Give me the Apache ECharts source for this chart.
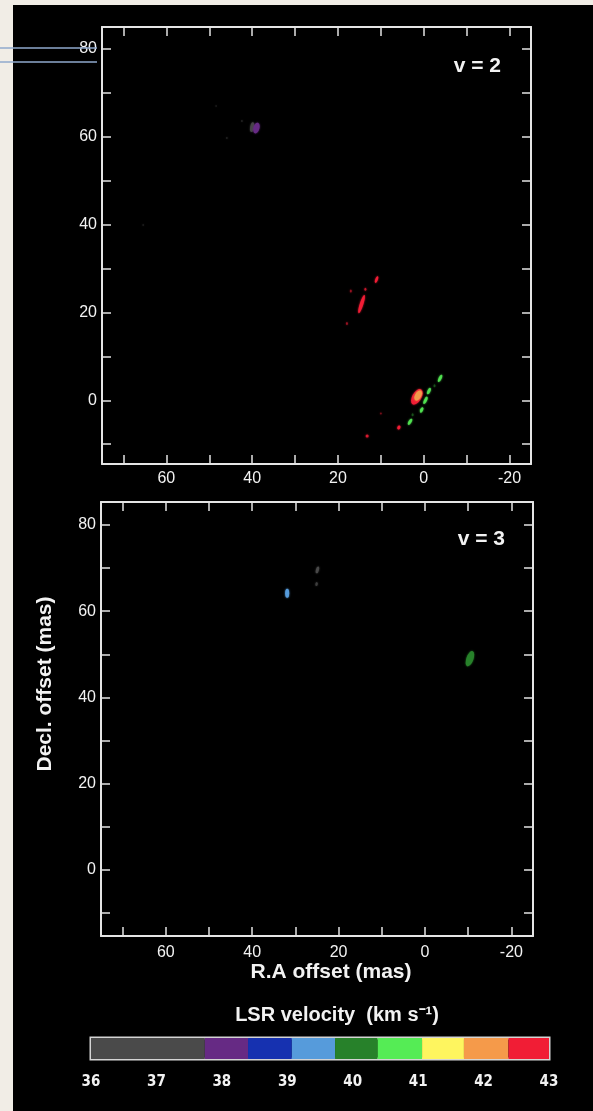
<!DOCTYPE html>
<html>
<head>
<meta charset="utf-8">
<script src="https://cdn.jsdelivr.net/npm/echarts@6/dist/echarts.min.js"></script>
<style>
  html, body { margin: 0; padding: 0; background: #f1ede6; }
  #chart { width: 593px; height: 1111px; }
</style>
</head>
<body>
<div id="chart"></div>
<script>
// ── Maser spot maps (v=2, v=3) with LSR velocity colour bar ──

// axis ticks / labels (mas)
const raTicks = [70, 60, 50, 40, 30, 20, 10, 0, -10, -20];
const raLabels = [60, 40, 20, 0, -20];
const decTicks = [-10, 0, 10, 20, 30, 40, 50, 60, 70, 80];
const decLabels = [0, 20, 40, 60, 80];

// colour bar: velocity bin edges (km/s) and tick labels
const velEdges = [36, 37.74, 38.4, 39.07, 39.73, 40.38, 41.06, 41.7, 42.38, 43];
const velLabels = [36, 37, 38, 39, 40, 41, 42, 43];

// v = 2 spots
const v2Ra   = [40.0, 39.0, 42.4, 45.9, 48.4, 65.4, 11.0, 17.0, 13.6, 14.5, 17.9, 1.6, 1.3, -3.8, -1.2, -0.4, 0.5, 3.2, 5.8, 13.2, 10.0, 2.6, -2.5];
const v2Dec  = [62.2, 62.0, 63.6, 59.7, 67.0, 39.9, 27.5, 24.9, 25.3, 21.9, 17.5, 0.8, 1.1, 5.0, 2.1, 0.0, -2.2, -4.9, -6.2, -8.1, -3.0, -3.3, 3.3];
const v2Vel  = [37.0, 38.0, 36.5, 36.5, 36.5, 36.5, 42.8, 42.8, 42.8, 42.8, 42.8, 42.8, 42.0, 40.7, 40.7, 40.7, 40.7, 40.7, 42.8, 42.8, 42.8, 40.2, 40.2];
const v2Amp  = [0.85, 1, 0.35, 0.35, 0.25, 0.3, 1, 0.5, 0.7, 1, 0.5, 1, 1, 0.85, 0.85, 0.85, 0.85, 0.85, 1, 0.8, 0.4, 0.5, 0.5];
const v2Len  = [10, 11, 2, 2, 2, 2, 7, 3, 3, 19, 3, 17, 11, 8, 7, 8, 6, 7, 4, 3, 2, 3, 3];
const v2Wid  = [4, 6, 2, 2, 2, 2, 2.5, 2, 2, 3.5, 2, 9, 6, 3, 3, 3, 3, 3, 3, 3, 2, 2, 2];
const v2PA   = [-10, -15, 0, 0, 0, 0, -20, 0, 0, -18, 0, -30, -30, -25, -25, -25, -25, -30, -30, 0, 0, 0, 0];

// v = 3 spots
const v3Ra   = [24.9, 25.1, 31.9, -10.4];
const v3Dec  = [69.6, 66.3, 64.2, 49.0];
const v3Vel  = [36.5, 36.5, 39.5, 40.2];
const v3Amp  = [0.95, 0.7, 1, 1];
const v3Len  = [7, 4, 9, 16];
const v3Wid  = [3, 2.5, 4, 7];
const v3PA   = [-15, -15, 0, -20];

const binColors = ['#4a4a4a', '#662a84', '#1631b0', '#569bdb', '#27812a', '#55ec55', '#fef55f', '#f59a4a', '#f11d35'];
const frameColor = '#e4e4e4';
const txt = '#f2f2f2';
const font = 'Liberation Sans, Arial, sans-serif';

function velColor(v) {
  for (let i = 0; i < binColors.length; i++) {
    if (v < velEdges[i + 1]) return binColors[i];
  }
  return binColors[binColors.length - 1];
}

function spots(ra, dec, vel, amp, len, wid, pa) {
  return ra.map((r, i) => ({
    value: [r, dec[i], vel[i]],
    symbolSize: [wid[i], len[i]],
    symbolRotate: pa[i],
    itemStyle: { color: velColor(vel[i]), opacity: amp[i], shadowBlur: 2, shadowColor: velColor(vel[i]) },
  }));
}

const panels = [
  { left: 102, top: 27, width: 429, height: 437, yMin: -14.5, yMax: 85 },
  { left: 101, top: 502, width: 432, height: 434, yMin: -15.3, yMax: 85.33 },
];

const grids = panels.map(p => ({ left: p.left, top: p.top, width: p.width, height: p.height }));
grids.push({ left: 91, top: 1038, width: 458, height: 21, show: true, borderColor: '#d4d4d4', borderWidth: 3 });

const xAxes = [], yAxes = [];
panels.forEach((p, g) => {
  ['bottom', 'top'].forEach(pos => {
    xAxes.push({
      gridIndex: g, type: 'value', min: -25, max: 75, inverse: true, position: pos,
      axisLine: { onZero: false, lineStyle: { color: frameColor, width: 2 } },
      axisTick: { inside: true, length: 9, customValues: raTicks, lineStyle: { color: frameColor, width: 1.5 } },
      axisLabel: pos === 'bottom'
        ? { customValues: raLabels, color: txt, fontSize: 16, fontFamily: font, margin: g === 0 ? 7 : 9 }
        : { show: false },
      splitLine: { show: false },
    });
  });
  ['left', 'right'].forEach(pos => {
    yAxes.push({
      gridIndex: g, type: 'value', min: p.yMin, max: p.yMax, position: pos,
      axisLine: { onZero: false, lineStyle: { color: frameColor, width: 2 } },
      axisTick: { inside: true, length: 9, customValues: decTicks, lineStyle: { color: frameColor, width: 1.5 } },
      axisLabel: pos === 'left'
        ? { customValues: decLabels, color: txt, fontSize: 16, fontFamily: font, margin: 5 }
        : { show: false },
      splitLine: { show: false },
    });
  });
});

// colour bar axes
xAxes.push({
  gridIndex: 2, type: 'value', min: 36, max: 43, interval: 1,
  axisLine: { show: false }, axisTick: { show: false }, splitLine: { show: false },
  axisLabel: { color: txt, fontSize: 15, fontWeight: 'bold', fontFamily: 'DejaVu Sans Condensed, sans-serif', margin: 16 },
});
yAxes.push({ gridIndex: 2, type: 'value', min: 0, max: 1, show: false });

const barData = binColors.map((c, i) => [velEdges[i], velEdges[i + 1], i]);

const chart = echarts.init(document.getElementById('chart'), null, { renderer: 'canvas' });
chart.setOption({
  backgroundColor: '#f1ede6',
  animation: false,
  grid: grids,
  xAxis: xAxes,
  yAxis: yAxes,
  graphic: [
    { type: 'rect', z: -10, shape: { x: 13, y: 5, width: 600, height: 1120 }, style: { fill: '#000' } },
    { type: 'line', z: 10, shape: { x1: 0, y1: 48, x2: 97, y2: 48 }, style: { stroke: '#8fa8cc', lineWidth: 1.5 } },
    { type: 'line', z: 10, shape: { x1: 0, y1: 62, x2: 97, y2: 62 }, style: { stroke: '#8fa8cc', lineWidth: 1.5 } },
    { type: 'text', z: 10, x: 501, y: 66, style: { text: 'v = 2', fill: txt, font: 'bold 21px ' + font, textAlign: 'right', textVerticalAlign: 'middle' } },
    { type: 'text', z: 10, x: 505, y: 539, style: { text: 'v = 3', fill: txt, font: 'bold 21px ' + font, textAlign: 'right', textVerticalAlign: 'middle' } },
    { type: 'text', z: 10, x: 331, y: 972, style: { text: 'R.A offset (mas)', fill: txt, font: 'bold 21px ' + font, textAlign: 'center', textVerticalAlign: 'middle' } },
    { type: 'text', z: 10, x: 45, y: 684, rotation: Math.PI / 2, style: { text: 'Decl. offset (mas)', fill: txt, font: 'bold 21px ' + font, textAlign: 'center', textVerticalAlign: 'middle' } },
    { type: 'text', z: 10, x: 337, y: 1015, style: { text: 'LSR velocity  (km s⁻¹)', fill: txt, font: 'bold 20px ' + font, textAlign: 'center', textVerticalAlign: 'middle' } },
  ],
  series: [
    {
      type: 'scatter', xAxisIndex: 0, yAxisIndex: 0, symbol: 'circle',
      data: spots(v2Ra, v2Dec, v2Vel, v2Amp, v2Len, v2Wid, v2PA),
    },
    {
      type: 'scatter', xAxisIndex: 2, yAxisIndex: 2, symbol: 'circle',
      data: spots(v3Ra, v3Dec, v3Vel, v3Amp, v3Len, v3Wid, v3PA),
    },
    {
      type: 'custom', xAxisIndex: 4, yAxisIndex: 4,
      data: barData,
      renderItem: function (params, api) {
        const p0 = api.coord([api.value(0), 1]);
        const p1 = api.coord([api.value(1), 0]);
        return {
          type: 'rect',
          shape: { x: p0[0], y: p0[1], width: p1[0] - p0[0], height: p1[1] - p0[1] },
          style: { fill: binColors[api.value(2)] },
        };
      },
    },
  ],
});
</script>
</body>
</html>
